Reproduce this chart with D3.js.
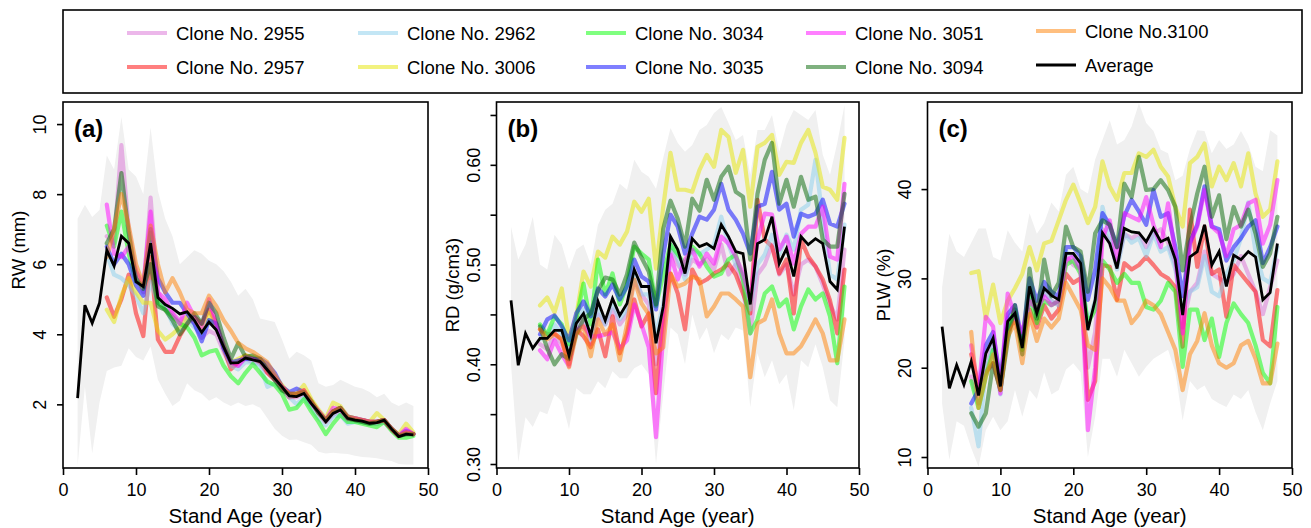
<!DOCTYPE html>
<html>
<head>
<meta charset="utf-8">
<script src="https://cdn.jsdelivr.net/npm/d3@7"></script>
<style>
  html, body { margin: 0; padding: 0; background: #fff; }
  svg { display: block; font-family: "Liberation Sans", Arial, Helvetica, sans-serif; }
</style>
</head>
<body>
<svg id="chart" width="1311" height="528"></svg>
<script>
// ---------- data ----------
const avgAges = [2,3,4,5,6,7,8,9,10,11,12,13,14,15,16,17,18,19,20,21,22,23,24,25,26,27,28,29,30,31,32,33,34,35,36,37,38,39,40,41,42,43,44,45,46,47,48];
const cloneAges = [6,7,8,9,10,11,12,13,14,15,16,17,18,19,20,21,22,23,24,25,26,27,28,29,30,31,32,33,34,35,36,37,38,39,40,41,42,43,44,45,46,47,48];

const cloneNames = ["Clone No. 2955","Clone No. 2957","Clone No. 2962","Clone No. 3006","Clone No. 3034",
                    "Clone No. 3035","Clone No. 3051","Clone No. 3094","Clone No.3100"];
const averageName = "Average";

const xTicks = [0,10,20,30,40,50];
const rwTicks = [2,4,6,8,10];
const rdTicks = [0.30,0.35,0.40,0.45,0.50,0.55,0.60,0.65];
const rdTickLabels = [0.30,0.40,0.50,0.60];
const plwTicks = [10,20,30,40];

// Ring width (mm)
const rwAvg = [2.18,4.83,4.32,4.89,6.4,5.95,6.8,6.6,5.5,5.36,
  6.6,5.05,4.85,4.74,4.58,4.64,4.4,4.05,4.35,4.12,
  3.64,3.18,3.19,3.32,3.27,3.22,2.98,2.74,2.5,2.24,
  2.22,2.31,2.03,1.78,1.5,1.74,1.84,1.6,1.55,1.52,
  1.46,1.48,1.55,1.3,1.08,1.15,1.13];
const rwUpper = [7.3,7.7,7.35,7.55,9.1,8.7,10.2,8.7,8.5,8.0,
  9.9,8.1,7.3,6.8,6.0,6.2,6.4,6.3,6.1,6.0,
  5.8,5.5,5.1,5.3,5.0,4.45,4.4,4.35,3.85,3.3,
  3.5,3.4,3.25,2.6,2.5,2.55,2.7,2.6,2.5,2.45,
  2.35,2.2,2.3,2.05,1.95,2.05,1.95];
const rwLower = [0.25,2.5,0.6,2.05,2.95,3.05,3.1,3.6,3.35,3.25,
  3.65,2.7,2.3,1.95,2.1,2.6,2.4,2.3,2.1,2.2,
  2.05,1.95,2.05,1.95,2.0,1.9,1.6,1.3,1.1,0.98,
  1.0,0.92,0.85,0.65,0.6,0.62,0.6,0.58,0.53,0.5,
  0.48,0.46,0.42,0.38,0.3,0.28,0.28];
const rw2955 = [6.8,6.6,9.4,7.0,5.8,5.2,7.9,5.2,4.7,4.6, 4.4,4.5,4.3,3.9,4.1,4.0,3.5,3.1,3.1,3.3, 3.2,3.15,2.9,2.7,2.45,2.2,2.2,2.3,2.0,1.75, 1.5,1.7,1.8,1.55,1.55,1.5,1.45,1.45,1.5,1.3, 1.1,1.15,1.15];
const rw2957 = [5.05,4.5,5.0,5.7,4.6,3.95,6.2,3.85,3.5,3.5, 3.95,4.3,4.5,4.3,4.7,4.3,3.6,3.0,3.2,3.4, 3.3,3.2,2.9,2.7,2.45,2.2,2.25,2.4,2.05,1.75, 1.5,1.8,1.9,1.6,1.55,1.55,1.5,1.5,1.55,1.3, 1.1,1.2,1.15];
const rw2962 = [6.3,5.7,5.6,5.4,5.1,4.6,5.5,4.9,4.8,4.3, 4.1,4.4,4.2,4.0,4.4,4.3,3.6,3.1,3.0,3.2, 3.2,3.1,2.5,2.6,2.4,2.2,2.0,2.2,1.9,1.6, 1.4,1.65,1.7,1.45,1.5,1.5,1.45,1.45,1.5,1.3, 1.1,1.15,1.15];
const rw3006 = [4.7,4.35,5.1,5.6,5.2,4.9,4.9,4.1,3.85,4.0, 4.2,4.5,4.4,4.1,4.6,4.2,3.7,3.2,3.3,3.4, 3.35,3.3,3.0,2.8,2.55,2.3,2.3,2.55,2.15,1.85, 1.6,2.05,1.95,1.65,1.6,1.55,1.5,1.75,1.55,1.3, 1.15,1.45,1.2];
const rw3034 = [7.1,6.5,7.5,6.3,5.5,5.4,6.9,4.9,4.7,4.5, 4.3,4.2,3.9,3.4,3.5,3.55,3.1,2.8,2.6,2.9, 3.15,2.9,2.65,2.55,2.3,1.85,1.9,2.15,1.8,1.5, 1.15,1.45,1.7,1.5,1.5,1.45,1.4,1.35,1.5,1.25, 1.05,1.05,1.1];
const rw3035 = [6.5,6.0,6.3,6.0,5.4,5.1,7.0,5.6,5.2,4.9, 4.9,4.6,4.3,3.8,4.4,4.3,3.6,3.2,3.25,3.3, 3.3,3.3,3.15,2.9,2.5,2.35,2.45,2.35,2.05,1.8, 1.55,1.8,1.9,1.65,1.6,1.55,1.5,1.5,1.55,1.3, 1.1,1.25,1.15];
const rw3051 = [7.7,6.3,6.2,6.5,5.8,5.4,7.5,5.2,5.0,4.6, 4.3,4.9,4.5,4.2,5.0,4.3,3.7,3.2,3.1,3.35, 3.3,3.25,3.0,2.75,2.5,2.3,2.3,2.4,2.05,1.8, 1.55,1.9,1.85,1.6,1.6,1.55,1.5,1.5,1.55,1.3, 1.1,1.3,1.15];
const rw3094 = [6.6,7.0,8.6,6.9,5.6,5.3,6.0,4.8,4.7,4.4, 4.0,4.3,4.6,4.3,4.9,4.6,3.9,3.3,3.75,3.35, 3.4,3.3,3.0,2.7,2.4,2.3,2.3,2.35,2.1,1.75, 1.55,1.8,1.9,1.6,1.55,1.5,1.45,1.5,1.55,1.3, 1.1,1.15,1.15];
const rw3100 = [6.2,7.0,8.0,7.1,6.0,5.4,7.1,6.0,5.2,5.6, 5.2,4.7,4.6,4.6,5.1,4.8,4.4,4.1,3.75,3.6, 3.5,3.35,3.2,2.85,2.5,2.3,2.3,2.4,2.1,1.8, 1.55,1.8,1.9,1.65,1.6,1.55,1.5,1.5,1.55,1.3, 1.1,1.2,1.15];

// Ring density (g/cm3)
const rdAvg = [0.464,0.399,0.431,0.416,0.426,0.426,0.434,0.434,0.409,0.441,
  0.451,0.429,0.463,0.444,0.466,0.449,0.461,0.495,0.478,0.478,
  0.421,0.458,0.528,0.515,0.491,0.526,0.518,0.521,0.516,0.540,
  0.528,0.513,0.511,0.460,0.521,0.525,0.548,0.501,0.516,0.488,
  0.528,0.520,0.526,0.521,0.483,0.475,0.538];
const rdUpper = [0.538,0.505,0.52,0.548,0.50,0.495,0.53,0.52,0.495,0.515,
  0.52,0.50,0.54,0.555,0.561,0.581,0.575,0.605,0.593,0.588,
  0.576,0.607,0.637,0.622,0.613,0.62,0.635,0.64,0.652,0.658,
  0.642,0.625,0.63,0.59,0.635,0.635,0.65,0.613,0.64,0.655,
  0.65,0.645,0.655,0.61,0.59,0.622,0.66];
const rdLower = [0.40,0.302,0.347,0.337,0.353,0.35,0.37,0.363,0.335,0.376,
  0.37,0.37,0.383,0.376,0.393,0.386,0.386,0.396,0.40,0.39,
  0.30,0.37,0.437,0.43,0.40,0.45,0.424,0.437,0.411,0.43,
  0.424,0.437,0.434,0.357,0.411,0.387,0.404,0.38,0.39,0.354,
  0.404,0.397,0.42,0.397,0.364,0.357,0.424];
const rd2955 = [0.42,0.415,0.43,0.42,0.405,0.435,0.445,0.42,0.45,0.44, 0.455,0.44,0.45,0.485,0.47,0.46,0.40,0.445,0.515,0.50, 0.49,0.505,0.50,0.505,0.495,0.52,0.49,0.50,0.475,0.431, 0.49,0.50,0.52,0.49,0.50,0.47,0.50,0.505,0.498,0.48, 0.46,0.445,0.515];
const rd2957 = [0.435,0.43,0.431,0.425,0.40,0.435,0.428,0.417,0.435,0.408, 0.448,0.411,0.431,0.465,0.438,0.451,0.371,0.451,0.491,0.471, 0.435,0.495,0.481,0.485,0.491,0.495,0.501,0.49,0.471,0.451, 0.565,0.525,0.518,0.491,0.505,0.451,0.525,0.508,0.498,0.485, 0.464,0.431,0.495];
const rd2962 = [0.425,0.43,0.44,0.43,0.415,0.44,0.455,0.425,0.455,0.44, 0.46,0.445,0.455,0.49,0.47,0.47,0.43,0.46,0.52,0.505, 0.485,0.515,0.51,0.515,0.52,0.548,0.52,0.50,0.49,0.455, 0.50,0.51,0.53,0.51,0.53,0.515,0.555,0.56,0.605,0.545, 0.49,0.485,0.54];
const rd3006 = [0.459,0.467,0.452,0.476,0.426,0.448,0.493,0.478,0.513,0.507, 0.528,0.52,0.533,0.563,0.553,0.566,0.496,0.558,0.612,0.575, 0.575,0.573,0.595,0.61,0.598,0.635,0.628,0.592,0.615,0.558, 0.618,0.622,0.63,0.59,0.603,0.602,0.622,0.635,0.612,0.578, 0.575,0.565,0.627];
const rd3034 = [0.44,0.43,0.448,0.44,0.42,0.445,0.481,0.44,0.505,0.47, 0.491,0.46,0.48,0.518,0.511,0.505,0.458,0.49,0.52,0.51, 0.50,0.518,0.511,0.498,0.488,0.491,0.505,0.51,0.485,0.431, 0.445,0.471,0.478,0.458,0.465,0.435,0.458,0.475,0.465,0.471, 0.448,0.401,0.478];
const rd3035 = [0.43,0.445,0.449,0.438,0.424,0.451,0.463,0.448,0.476,0.468, 0.48,0.465,0.478,0.505,0.488,0.483,0.455,0.51,0.55,0.538, 0.511,0.531,0.548,0.545,0.555,0.581,0.555,0.545,0.531,0.511, 0.558,0.561,0.593,0.555,0.561,0.528,0.551,0.548,0.551,0.565, 0.541,0.538,0.561];
const rd3051 = [0.414,0.405,0.424,0.41,0.398,0.435,0.438,0.428,0.428,0.43, 0.432,0.416,0.424,0.46,0.44,0.417,0.327,0.43,0.51,0.485, 0.505,0.515,0.498,0.511,0.501,0.528,0.521,0.508,0.491,0.464, 0.525,0.551,0.55,0.515,0.528,0.501,0.531,0.538,0.538,0.558, 0.508,0.505,0.581];
const rd3094 = [0.438,0.416,0.40,0.41,0.405,0.43,0.445,0.451,0.474,0.487, 0.485,0.47,0.49,0.522,0.507,0.493,0.46,0.536,0.564,0.546, 0.518,0.566,0.554,0.585,0.565,0.588,0.598,0.573,0.568,0.505, 0.571,0.605,0.622,0.561,0.585,0.558,0.588,0.565,0.568,0.525, 0.518,0.518,0.571];
const rd3100 = [0.435,0.425,0.43,0.425,0.397,0.43,0.438,0.408,0.445,0.43, 0.44,0.404,0.44,0.485,0.461,0.45,0.411,0.417,0.491,0.478, 0.481,0.488,0.485,0.448,0.458,0.471,0.471,0.465,0.458,0.387, 0.441,0.445,0.465,0.431,0.411,0.411,0.418,0.431,0.445,0.431, 0.404,0.404,0.445];

// Proportion of latewood (%)
const plwAvg = [24.6,17.7,20.3,18.1,20.7,16.9,21.6,23.3,17.9,25.2,
  26.1,22.2,29.1,26.1,28.9,28.1,27.6,32.8,32.8,31.7,
  24.2,27.6,35.1,33.9,31.1,35.6,35.2,35.1,34.1,35.6,
  34.1,34.5,32.1,25.9,32.4,33.0,36.0,31.5,33.0,29.1,
  32.6,32.1,33.0,32.4,27.6,28.4,33.9];
const plwUpper = [29.0,35.0,33.0,32.4,34.0,35.6,35.6,32.4,32.0,35.4,
  34.0,33.0,37.3,35.0,36.2,38.5,37.5,41.6,42.5,40.0,
  39.5,43.3,45.5,47.7,45.0,45.5,47.0,49.6,47.4,46.5,
  44.4,44.0,41.0,41.5,44.5,46.6,46.5,44.0,45.5,44.5,
  45.0,46.5,45.0,42.5,42.0,46.6,46.0];
const plwLower = [16.0,9.7,14.0,13.5,11.0,8.9,13.0,14.5,13.0,14.0,
  17.5,14.5,17.5,16.5,19.5,17.0,17.5,19.8,20.5,19.5,
  10.0,14.5,21.0,21.0,19.0,22.0,20.5,19.0,20.1,21.0,
  21.5,22.0,19.5,14.1,18.5,17.5,18.0,16.5,16.0,15.6,
  17.0,16.5,17.5,15.0,13.0,16.0,18.5];
const plw2955 = [19.0,16.0,21.0,23.0,17.5,25.5,26.5,22.5,28.5,26.0, 28.5,27.5,27.0,32.5,31.5,31.0,20.0,24.0,35.5,34.0, 31.5,35.0,34.5,35.0,33.5,35.0,35.5,34.0,31.5,24.5, 28.5,29.5,33.0,30.5,30.0,29.5,30.5,32.5,30.5,28.5, 26.0,29.0,32.0];
const plw2957 = [21.5,18.0,19.5,20.5,17.5,24.0,25.5,22.5,26.5,24.5, 27.0,25.5,26.5,30.5,29.5,30.0,16.4,18.5,31.5,31.3, 27.6,31.7,31.0,31.5,32.4,31.5,30.5,30.0,29.0,22.35, 37.7,31.3,35.8,30.5,31.0,25.7,31.5,30.5,29.5,28.5, 23.1,22.4,28.7];
const plw2962 = [15.5,11.2,20.0,22.5,17.0,24.5,26.5,21.5,29.0,26.0, 28.5,27.5,27.0,33.0,32.5,31.0,25.0,27.5,38.0,34.5, 31.0,35.0,34.0,34.5,32.5,35.0,33.0,33.5,31.0,26.5, 28.5,29.0,32.5,28.5,28.0,30.5,32.0,34.5,38.5,33.0, 30.0,29.5,33.5];
const plw3006 = [30.6,30.8,25.5,29.3,25.0,27.5,28.9,30.5,33.5,30.9, 33.9,34.2,36.5,38.8,40.5,38.4,36.2,38.0,43.1,40.3, 38.8,41.8,41.8,44.0,43.6,44.4,42.5,41.4,38.0,35.8, 42.9,43.6,45.1,40.3,42.5,41.0,42.9,40.3,44.0,39.5, 36.9,37.7,43.1];
const plw3034 = [18.5,15.5,19.0,22.0,18.0,24.5,26.5,22.0,28.0,25.0, 27.5,27.0,27.5,31.5,32.0,30.5,25.0,26.5,32.0,31.0, 29.5,30.5,29.5,29.5,26.8,26.5,27.5,29.5,28.5,20.1, 26.5,26.5,23.1,25.5,21.2,25.0,27.2,26.0,25.0,22.5, 19.4,18.25,26.8];
const plw3035 = [16.0,17.5,22.5,24.0,18.5,26.0,27.0,23.0,30.0,27.5, 29.6,28.5,28.0,33.5,33.5,32.5,27.6,31.0,37.3,36.0, 33.5,37.0,38.8,37.5,36.0,39.9,36.9,37.3,33.5,28.0, 34.0,36.0,40.3,35.8,35.5,32.0,33.5,34.5,35.8,36.5, 31.7,33.5,35.8];
const plw3051 = [22.5,17.5,25.7,24.6,17.1,28.3,25.7,24.0,27.5,26.5, 28.0,27.0,27.5,32.0,32.5,31.0,13.0,20.0,34.5,36.5, 32.0,37.3,36.9,36.5,39.1,36.0,33.5,38.4,32.5,23.85, 33.9,35.8,39.9,35.8,35.05,32.5,35.5,36.0,38.4,38.8, 33.9,36.0,41.0];
const plw3094 = [14.9,13.4,14.9,20.5,17.5,23.0,27.0,21.5,31.1,25.5, 32.1,28.0,29.5,35.8,33.5,33.0,28.5,35.05,36.5,36.0, 33.5,40.6,39.1,43.6,39.9,40.0,41.0,39.9,38.0,30.9, 35.8,39.5,42.5,36.9,39.3,34.4,38.0,35.8,37.7,35.05, 31.3,32.8,36.9];
const plw3100 = [24.0,15.5,19.0,21.5,17.5,23.5,25.0,20.5,26.0,23.0, 25.5,24.5,25.5,29.5,28.0,26.5,22.5,22.0,30.0,29.0, 27.5,27.5,25.0,26.0,27.5,27.0,26.0,24.0,22.0,17.5, 21.5,23.0,26.1,22.5,20.5,20.0,20.5,22.5,23.0,21.0, 18.25,18.25,22.7];

// ---------- styling ----------
const cloneColors = ["#da70d6","#ff0000","#87ceeb","#e6e600","#00ff00","#0000ff","#ff00ff","#006400","#ff8000"];
const cloneOpacity = 0.5;
const bandColor = "#f0f0f0";

const panels = [
  { tag: "(a)", left: 63, right: 428, yDomain: [0.183, 10.63], ticks: rwTicks, labelled: rwTicks,
    fmt: d3.format("d"), title: "RW (mm)", titleY: 250,
    avg: rwAvg, hi: rwUpper, lo: rwLower,
    clones: [rw2955, rw2957, rw2962, rw3006, rw3034, rw3035, rw3051, rw3094, rw3100] },
  { tag: "(b)", left: 496.5, right: 859, yDomain: [0.296, 0.663], ticks: rdTicks, labelled: rdTickLabels,
    fmt: d3.format(".2f"), title: "RD (g/cm3)", titleY: 285,
    avg: rdAvg, hi: rdUpper, lo: rdLower,
    clones: [rd2955, rd2957, rd2962, rd3006, rd3034, rd3035, rd3051, rd3094, rd3100] },
  { tag: "(c)", left: 927.5, right: 1292, yDomain: [8.77, 49.75], ticks: plwTicks, labelled: plwTicks,
    fmt: d3.format("d"), title: "PLW (%)", titleY: 285,
    avg: plwAvg, hi: plwUpper, lo: plwLower,
    clones: [plw2955, plw2957, plw2962, plw3006, plw3034, plw3035, plw3051, plw3094, plw3100] }
];

const TOP = 102, BOTTOM = 468;
const svg = d3.select("#chart");

panels.forEach(p => {
  const x = d3.scaleLinear().domain([0, 50]).range([p.left, p.right]);
  const y = d3.scaleLinear().domain(p.yDomain).range([BOTTOM, TOP]);
  const g = svg.append("g");

  // min-max envelope
  const band = d3.area()
    .x((d, i) => x(avgAges[i]))
    .y0((d, i) => y(p.lo[i]))
    .y1((d, i) => y(p.hi[i]));
  g.append("path").datum(p.avg).attr("d", band).attr("fill", bandColor);

  // clone series
  const line = d3.line().x((d, i) => x(cloneAges[i])).y(d => y(d));
  p.clones.forEach((s, k) => {
    g.append("path").datum(s).attr("d", line)
      .attr("fill", "none").attr("stroke", cloneColors[k]).attr("stroke-opacity", cloneOpacity)
      .attr("stroke-width", 4.2).attr("stroke-linejoin", "round").attr("stroke-linecap", "round");
  });

  // average
  const avgLine = d3.line().x((d, i) => x(avgAges[i])).y(d => y(d));
  g.append("path").datum(p.avg).attr("d", avgLine)
    .attr("fill", "none").attr("stroke", "#000").attr("stroke-width", 2.8)
    .attr("stroke-linejoin", "miter");

  // frame
  g.append("rect").attr("x", p.left).attr("y", TOP)
    .attr("width", p.right - p.left).attr("height", BOTTOM - TOP)
    .attr("fill", "none").attr("stroke", "#000").attr("stroke-width", 1.6);

  // x axis
  const xa = g.append("g").attr("transform", `translate(0,${BOTTOM})`)
    .call(d3.axisBottom(x).tickValues(xTicks).tickSize(7).tickSizeOuter(0).tickFormat(d3.format("d")));
  xa.select(".domain").remove();
  xa.selectAll(".tick line").attr("stroke", "#000").attr("stroke-width", 1.6);
  xa.selectAll(".tick text").attr("y", 28).attr("dy", 0)
    .attr("font-size", 18).attr("fill", "#000").attr("font-family", null);

  // y axis
  const labelled = new Set(p.labelled.map(v => v.toFixed(2)));
  const ya = g.append("g").attr("transform", `translate(${p.left},0)`)
    .call(d3.axisLeft(y).tickValues(p.ticks).tickSize(6).tickSizeOuter(0)
      .tickFormat(d => labelled.has(d.toFixed(2)) ? p.fmt(d) : ""));
  ya.select(".domain").remove();
  ya.selectAll(".tick line").attr("stroke", "#000").attr("stroke-width", 1.6);
  ya.selectAll(".tick text").attr("transform", "rotate(-90)")
    .attr("x", 0).attr("y", -17).attr("dy", 0).attr("text-anchor", "middle")
    .attr("font-size", 18).attr("fill", "#000").attr("font-family", null);

  // titles
  g.append("text").attr("x", (p.left + p.right) / 2).attr("y", 523)
    .attr("text-anchor", "middle").attr("font-size", 20.5).text("Stand Age (year)");
  g.append("text").attr("transform", `translate(${p.left - 38},${p.titleY}) rotate(-90)`)
    .attr("text-anchor", "middle").attr("font-size", 18.5).text(p.title);
  g.append("text").attr("x", p.left + 11).attr("y", 137)
    .attr("font-size", 24).attr("font-weight", "bold").text(p.tag);
});

// ---------- legend ----------
const legend = svg.append("g");
legend.append("rect").attr("x", 63).attr("y", 10).attr("width", 1239).attr("height", 83)
  .attr("fill", "#fff").attr("stroke", "#000").attr("stroke-width", 1.6);

const legendCols = [127, 358, 586, 806, 1036];
const legendRows = [33, 67];
const legendItems = cloneNames.map((n, i) => ({ name: n, color: cloneColors[i], op: cloneOpacity, w: 4.2 }))
  .concat([{ name: averageName, color: "#000", op: 1, w: 2.8 }]);
legendItems.forEach((it, i) => {
  const cx = legendCols[Math.floor(i / 2)];
  let cy = legendRows[i % 2];
  if (i === 8) cy -= 2;
  if (i === 9) cy -= 2;
  legend.append("line").attr("x1", cx).attr("x2", cx + 40).attr("y1", cy).attr("y2", cy)
    .attr("stroke", it.color).attr("stroke-opacity", it.op).attr("stroke-width", it.w);
  legend.append("text").attr("x", cx + 49).attr("y", cy + 6.5)
    .attr("font-size", 18.5).text(it.name);
});
</script>
</body>
</html>
